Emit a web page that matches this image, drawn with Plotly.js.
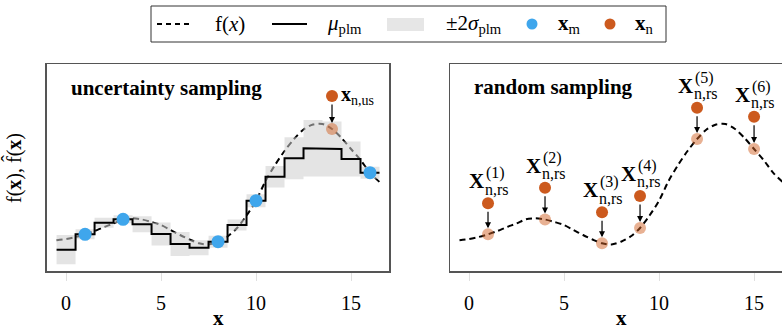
<!DOCTYPE html>
<html>
<head>
<meta charset="utf-8">
<script src="https://cdn.plot.ly/plotly-3.0.1.min.js"></script>
<style>
html,body{margin:0;padding:0;background:#fff;}
#chart{width:782px;height:331px;}
</style>
</head>
<body>
<div id="chart"></div>
<script>
// ---- data ----
const fX = [-0.5,0,0.5,1,1.5,2,2.5,3,3.5,4,4.5,5,5.5,6,6.5,7,7.5,8,8.5,9,9.5,10,10.5,11,11.5,12,12.5,13,13.5,14,14.5,15,15.5,16,16.5];
const fY = [0.307,0.32,0.34,0.367,0.40,0.44,0.475,0.517,0.527,0.515,0.49,0.46,0.41,0.36,0.315,0.277,0.265,0.293,0.345,0.43,0.555,0.703,0.90,1.06,1.20,1.32,1.415,1.465,1.47,1.42,1.33,1.22,1.11,0.983,0.89];

const bins = [0,1,2,3,4,5,6,7,8,9,10,11,12,13,14,15,16];
const muPlm = [0.213,0.367,0.483,0.517,0.467,0.37,0.27,0.233,0.293,0.46,0.703,0.943,1.127,1.227,1.22,1.12,0.983];
const twoSigma = [0.146,0.05,0.05,0.04,0.08,0.115,0.12,0.075,0.06,0.055,0.065,0.108,0.21,0.283,0.275,0.175,0.06];

const xM = [1,3,8,10,16];
const yM = [0.367,0.517,0.293,0.703,0.983];

const xNus = [14];
const yNus = [1.75];
const fNus = [1.42];

const xNrs = [1,4,7,9,12,15];
const yNrs = [0.677,0.833,0.587,0.75,1.633,1.543];
const fNrs = [0.367,0.515,0.277,0.43,1.32,1.22];
const rsSup = ['(1)','(2)','(3)','(4)','(5)','(6)'];

const tickVals = [0,5,10,15];
const tickText = ['0','5','10','15'];

// ---- styling ----
const FONT = 'Liberation Serif';
const BLUE = '#3fa6ec';
const ORANGE = '#cc5a1e';
const LIGHT = 'rgba(210,100,40,0.5)';
const BAND = 'rgba(205,205,205,0.55)';
const W = 782, H = 331;
const px = v => v / W;
const py = v => 1 - v / H;

// step line and band built from bins
const stepX = [], stepY = [], loY = [], hiY = [];
bins.forEach((b, i) => {
  stepX.push(b - 0.5, b + 0.5);
  stepY.push(muPlm[i], muPlm[i]);
  loY.push(muPlm[i] - twoSigma[i], muPlm[i] - twoSigma[i]);
  hiY.push(muPlm[i] + twoSigma[i], muPlm[i] + twoSigma[i]);
});

const dash = {color: '#000', width: 2, dash: '6px,4px', shape: 'spline', smoothing: 0.8};

const traces = [
  // left panel
  {x: fX, y: fY, mode: 'lines', line: dash, xaxis: 'x', yaxis: 'y', hoverinfo: 'skip'},
  {x: stepX, y: loY, mode: 'lines', line: {width: 0}, xaxis: 'x', yaxis: 'y', hoverinfo: 'skip'},
  {x: stepX, y: hiY, mode: 'lines', line: {width: 0}, fill: 'tonexty', fillcolor: BAND, xaxis: 'x', yaxis: 'y', hoverinfo: 'skip'},
  {x: stepX, y: stepY, mode: 'lines', line: {color: '#000', width: 2}, xaxis: 'x', yaxis: 'y'},
  {x: xNus, y: fNus, mode: 'markers', marker: {color: LIGHT, size: 12}, xaxis: 'x', yaxis: 'y'},
  {x: xNus, y: yNus, mode: 'markers', marker: {color: ORANGE, size: 12}, xaxis: 'x', yaxis: 'y'},
  {x: xM, y: yM, mode: 'markers', marker: {color: BLUE, size: 13}, xaxis: 'x', yaxis: 'y'},
  // right panel
  {x: fX, y: fY, mode: 'lines', line: dash, xaxis: 'x2', yaxis: 'y2', hoverinfo: 'skip'},
  {x: xNrs, y: fNrs, mode: 'markers', marker: {color: LIGHT, size: 12}, xaxis: 'x2', yaxis: 'y2'},
  {x: xNrs, y: yNrs, mode: 'markers', marker: {color: ORANGE, size: 12}, xaxis: 'x2', yaxis: 'y2'}
];

const ann = [];
const shapes = [];

// panel titles
ann.push({xref: 'paper', yref: 'paper', x: px(69), y: py(88), xanchor: 'left', yanchor: 'middle', showarrow: false,
  text: '<b>uncertainty sampling</b>', font: {family: FONT, size: 21, color: '#000'}});
ann.push({xref: 'paper', yref: 'paper', x: px(472), y: py(87), xanchor: 'left', yanchor: 'middle', showarrow: false,
  text: '<b>random sampling</b>', font: {family: FONT, size: 21, color: '#000'}});

// axis titles
ann.push({xref: 'paper', yref: 'paper', x: px(218), y: py(318), xanchor: 'center', yanchor: 'middle', showarrow: false,
  text: '<b>x</b>', font: {family: FONT, size: 21, color: '#000'}});
ann.push({xref: 'paper', yref: 'paper', x: px(621), y: py(318), xanchor: 'center', yanchor: 'middle', showarrow: false,
  text: '<b>x</b>', font: {family: FONT, size: 21, color: '#000'}});
ann.push({xref: 'paper', yref: 'paper', x: px(13), y: py(168), xanchor: 'center', yanchor: 'middle', showarrow: false,
  textangle: -90, text: 'f(<b>x</b>), f\u0302(<b>x</b>)', font: {family: FONT, size: 20, color: '#000'}});

// arrows + labels, left
xNus.forEach((x, i) => {
  ann.push({xref: 'x', yref: 'y', axref: 'x', ayref: 'y', x: x, y: fNus[i], ax: x, ay: yNus[i], text: '',
    showarrow: true, arrowhead: 2, arrowsize: 1, arrowwidth: 1.2, arrowcolor: '#000', standoff: 6, startstandoff: 7});
  ann.push({xref: 'x', yref: 'y', x: x, y: yNus[i], xanchor: 'left', yanchor: 'middle', xshift: 8, yshift: 0,
    showarrow: false, borderpad: 0, text: '<b>x</b><sub>n,us</sub>', font: {family: FONT, size: 20, color: '#000'}});
});

// arrows + labels, right
xNrs.forEach((x, i) => {
  ann.push({xref: 'x2', yref: 'y2', axref: 'x2', ayref: 'y2', x: x, y: fNrs[i], ax: x, ay: yNrs[i], text: '',
    showarrow: true, arrowhead: 2, arrowsize: 1, arrowwidth: 1.2, arrowcolor: '#000', standoff: 6, startstandoff: 7});
  ann.push({xref: 'x2', yref: 'y2', x: x, y: yNrs[i], xanchor: 'right', yanchor: 'middle', xshift: -3, yshift: 22,
    showarrow: false, borderpad: 0, text: '<b>X</b>', font: {family: FONT, size: 21, color: '#000'}});
  ann.push({xref: 'x2', yref: 'y2', x: x, y: yNrs[i], xanchor: 'left', yanchor: 'middle', xshift: -4, yshift: 14,
    showarrow: false, borderpad: 0, text: 'n,rs', font: {family: FONT, size: 16, color: '#000'}});
  ann.push({xref: 'x2', yref: 'y2', x: x, y: yNrs[i], xanchor: 'left', yanchor: 'middle', xshift: -3, yshift: 30,
    showarrow: false, borderpad: 0, text: rsSup[i], font: {family: FONT, size: 16, color: '#000'}});
});

// manual legend
shapes.push({type: 'rect', xref: 'paper', yref: 'paper', x0: px(151), x1: px(666), y0: py(6), y1: py(42),
  line: {color: '#333', width: 1}, fillcolor: 'rgba(255,255,255,0)'});
shapes.push({type: 'line', xref: 'paper', yref: 'paper', x0: px(157), x1: px(189), y0: py(24), y1: py(24),
  line: {color: '#000', width: 2, dash: '5px,4px'}});
shapes.push({type: 'line', xref: 'paper', yref: 'paper', x0: px(272), x1: px(307), y0: py(24), y1: py(24),
  line: {color: '#000', width: 2}});
shapes.push({type: 'rect', xref: 'paper', yref: 'paper', x0: px(387), x1: px(424), y0: py(18), y1: py(31),
  line: {width: 0}, fillcolor: '#e6e6e6'});
shapes.push({type: 'circle', xref: 'paper', yref: 'paper', x0: px(526.5), x1: px(537.5), y0: py(18.5), y1: py(29.5),
  line: {width: 0}, fillcolor: BLUE});
shapes.push({type: 'circle', xref: 'paper', yref: 'paper', x0: px(604.5), x1: px(615.5), y0: py(18.5), y1: py(29.5),
  line: {width: 0}, fillcolor: ORANGE});
const legTexts = [
  [214, 'f(<i>x</i>)'],
  [326, '<i>μ</i><sub>plm</sub>'],
  [445, '±2<i>σ</i><sub>plm</sub>'],
  [557, '<b>x</b><sub>m</sub>'],
  [634, '<b>x</b><sub>n</sub>']
];
legTexts.forEach(t => ann.push({xref: 'paper', yref: 'paper', x: px(t[0]), y: py(24), xanchor: 'left', yanchor: 'middle',
  showarrow: false, borderpad: 0, text: t[1], font: {family: FONT, size: 21, color: '#000'}}));

const xCommon = {
  tickvals: tickVals, ticktext: tickText, ticks: 'outside', ticklen: 8, tickwidth: 1, tickcolor: '#e0e0e0',
  ticklabelstandoff: 5, showgrid: false, zeroline: false, showline: true, mirror: true, linecolor: '#555', linewidth: 1.5,
  tickfont: {family: FONT, size: 20, color: '#000'}, fixedrange: true
};
const yCommon = {range: [0, 2.07], showgrid: false, zeroline: false, showticklabels: false, ticks: '',
  showline: true, linecolor: '#555', linewidth: 1.5, fixedrange: true, domain: [1 - 271 / H, 1 - 64 / H]};

const layout = {
  width: W, height: H, margin: {l: 0, r: 0, t: 0, b: 0}, paper_bgcolor: '#fff', plot_bgcolor: '#fff',
  showlegend: false, font: {family: FONT, color: '#000'},
  xaxis: Object.assign({}, xCommon, {domain: [46.7 / W, 389 / W], range: [-1.02, 17.0], anchor: 'y'}),
  yaxis: Object.assign({}, yCommon, {mirror: true, anchor: 'x'}),
  xaxis2: Object.assign({}, xCommon, {domain: [450 / W, 1], range: [-1.0, 16.47], anchor: 'y2'}),
  yaxis2: Object.assign({}, yCommon, {mirror: false, anchor: 'x2'}),
  annotations: ann,
  shapes: shapes
};

Plotly.newPlot('chart', traces, layout, {displayModeBar: false, staticPlot: true});
</script>
</body>
</html>
